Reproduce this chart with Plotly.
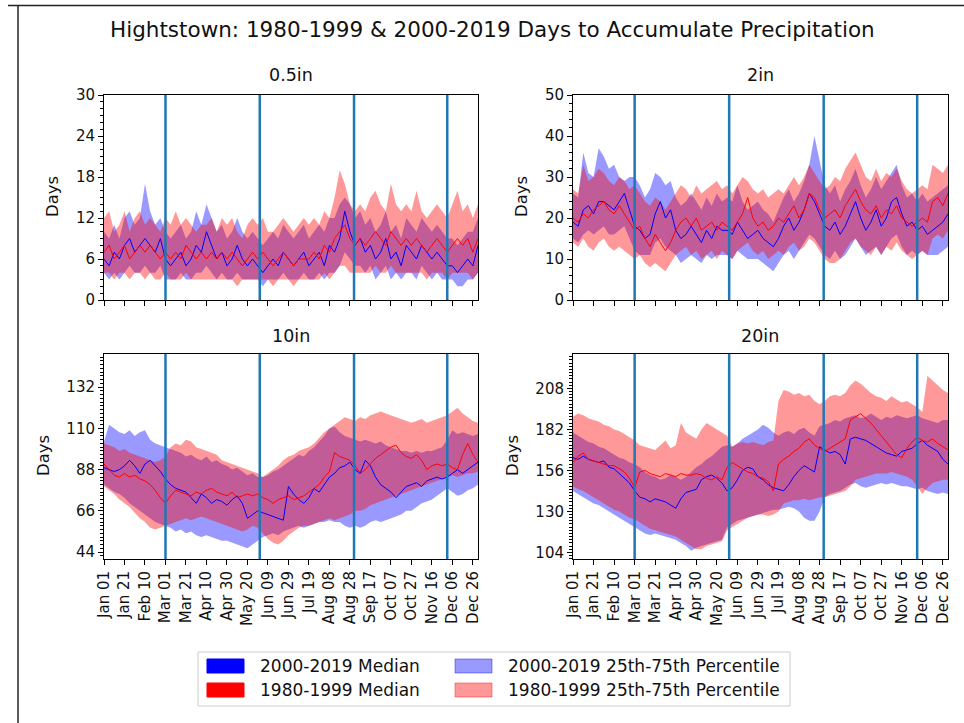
import pandas as pd
import plotly.graph_objects as go

W, H = 964, 723
FONT = "DejaVu Sans"

# Sampling days (offset from Jan 01 of a leap year) and calendar ticks
SAMPLE_DAYS = list(range(0, 366, 5))
TICK_DAYS = list(range(0, 361, 20))
TICK_LABELS = ["Jan 01", "Jan 21", "Feb 10", "Mar 01", "Mar 21", "Apr 10", "Apr 30",
               "May 20", "Jun 09", "Jun 29", "Jul 19", "Aug 08", "Aug 28", "Sep 17",
               "Oct 07", "Oct 27", "Nov 16", "Dec 06", "Dec 26"]
SEASON_STARTS = ["2000-03-01", "2000-06-01", "2000-09-01", "2000-12-01"]
PANEL_TITLES = ["0.5in", "2in", "10in", "20in"]

# ---- 0.5in ----
p05_new_med = [6, 5, 7, 6, 8, 9, 7, 8, 9, 8,
               7, 9, 6, 5, 6, 7, 5, 6, 8, 7,
               10, 8, 6, 7, 5, 6, 8, 6, 5, 6,
               5, 4, 5, 6, 5, 7, 6, 5, 6, 7,
               5, 6, 7, 5, 8, 7, 9, 13, 10, 8,
               9, 7, 8, 6, 7, 9, 6, 7, 5, 8,
               7, 6, 8, 7, 6, 7, 6, 5, 5, 4,
               5, 6, 5, 8]
p05_new_p25 = [4, 3, 4, 3, 4, 5, 4, 4, 5, 4,
               4, 5, 3, 3, 3, 4, 3, 3, 4, 4,
               5, 4, 3, 4, 3, 3, 4, 3, 3, 3,
               3, 2, 3, 3, 3, 4, 3, 3, 3, 4,
               3, 3, 4, 3, 4, 4, 5, 7, 6, 5,
               5, 4, 5, 3, 4, 5, 3, 4, 3, 4,
               4, 3, 5, 4, 3, 4, 3, 3, 3, 2,
               2, 3, 3, 4]
p05_new_p75 = [10, 9, 11, 9, 12, 13, 11, 12, 17, 13,
               11, 12, 10, 9, 10, 11, 9, 10, 13, 11,
               14, 12, 10, 11, 9, 10, 12, 10, 9, 10,
               9, 8, 9, 10, 9, 11, 10, 9, 10, 11,
               9, 10, 11, 10, 12, 12, 14, 15, 14, 12,
               13, 11, 12, 10, 11, 13, 10, 11, 9, 12,
               11, 10, 12, 11, 10, 11, 10, 9, 9, 8,
               9, 10, 10, 12]
p05_old_med = [7, 8, 6, 7, 8, 6, 7, 8, 7, 8,
               7, 6, 7, 6, 7, 6, 8, 7, 6, 7,
               6, 7, 6, 7, 6, 7, 6, 5, 6, 7,
               6, 7, 6, 5, 6, 7, 6, 5, 6, 6,
               6, 7, 6, 8, 7, 9, 10, 11, 9, 8,
               9, 8, 9, 10, 9, 8, 10, 9, 8, 9,
               8, 9, 8, 7, 8, 9, 8, 7, 8, 9,
               8, 9, 7, 9]
p05_old_p25 = [4, 4, 3, 4, 4, 3, 4, 4, 3, 4,
               3, 3, 4, 3, 3, 3, 4, 3, 3, 3,
               3, 3, 3, 3, 3, 3, 2, 3, 3, 3,
               3, 3, 3, 2, 3, 3, 3, 2, 3, 3,
               3, 3, 3, 4, 3, 4, 5, 5, 4, 4,
               4, 4, 4, 5, 4, 4, 5, 4, 4, 4,
               4, 4, 4, 3, 4, 4, 4, 3, 4, 4,
               4, 4, 3, 4]
p05_old_p75 = [12, 13, 10, 11, 13, 10, 12, 13, 11, 12,
               11, 10, 12, 11, 13, 11, 12, 11, 10, 11,
               11, 12, 10, 12, 11, 12, 10, 9, 11, 12,
               11, 12, 10, 10, 11, 12, 11, 10, 11, 12,
               11, 12, 11, 13, 12, 15, 19, 17, 14, 13,
               14, 13, 15, 16, 14, 13, 17, 14, 13, 14,
               13, 16, 13, 12, 13, 14, 13, 12, 14, 16,
               13, 14, 12, 14]

# ---- 2in ----
p2_new_med = [19, 18, 22, 23, 21, 24, 24, 23, 22, 24,
              26, 22, 18, 17, 15, 16, 21, 24, 20, 22,
              17, 15, 16, 18, 16, 14, 17, 15, 18, 17,
              17, 16, 19, 17, 15, 16, 17, 15, 14, 13,
              15, 18, 20, 17, 19, 22, 26, 24, 21, 18,
              17, 19, 16, 18, 21, 24, 20, 17, 19, 22,
              18, 20, 24, 25, 21, 18, 19, 17, 18, 16,
              17, 18, 19, 21]
p2_new_p25 = [15, 14, 16, 17, 16, 17, 18, 16, 16, 17,
              18, 15, 12, 11, 11, 11, 14, 15, 13, 12,
              11, 9, 10, 11, 10, 9, 11, 10, 11, 11,
              11, 10, 12, 11, 10, 10, 10, 9, 8, 7,
              9, 11, 12, 10, 12, 14, 16, 15, 13, 11,
              10, 12, 10, 11, 13, 15, 13, 11, 12, 13,
              11, 13, 15, 16, 13, 11, 12, 11, 12, 11,
              11, 11, 12, 13]
p2_new_p75 = [26, 25, 36, 31, 30, 37, 35, 32, 33, 30,
              29, 30, 30, 28, 25, 27, 31, 30, 28, 29,
              25, 23, 24, 26, 24, 22, 25, 23, 26, 24,
              25, 24, 28, 24, 22, 23, 24, 22, 21, 19,
              22, 25, 27, 24, 26, 29, 33, 40, 34, 28,
              26, 28, 24, 27, 29, 32, 28, 25, 27, 30,
              27, 29, 31, 33, 28, 25, 26, 24, 26, 24,
              25, 26, 27, 28]
p2_old_med = [20, 19, 21, 20, 22, 23, 24, 22, 21, 23,
              21, 19, 17, 18, 15, 13, 16, 14, 12, 14,
              17, 19, 20, 18, 20, 17, 18, 19, 17, 19,
              18, 17, 19, 21, 25, 20, 18, 19, 17, 18,
              20, 19, 21, 23, 20, 22, 26, 25, 22, 20,
              21, 22, 20, 23, 25, 27, 24, 22, 21, 23,
              20, 22, 21, 23, 20, 19, 18, 19, 20, 19,
              24, 25, 23, 26]
p2_old_p25 = [14, 13, 15, 13, 12, 14, 15, 13, 12, 13,
              12, 11, 10, 11, 9, 8, 9, 8, 7, 9,
              11, 12, 13, 11, 12, 10, 11, 12, 10, 12,
              11, 10, 12, 13, 14, 12, 11, 12, 10, 11,
              12, 11, 13, 14, 12, 13, 15, 14, 12, 10,
              9, 9, 10, 12, 14, 15, 13, 12, 11, 13,
              11, 13, 12, 14, 12, 11, 10, 11, 12, 11,
              15, 16, 15, 17]
p2_old_p75 = [27, 26, 33, 29, 30, 32, 31, 29, 28, 30,
              29, 27, 28, 26, 24, 23, 25, 24, 22, 24,
              26, 28, 27, 25, 28, 26, 27, 28, 29, 27,
              28, 26, 28, 30, 29, 27, 26, 27, 25, 26,
              27, 26, 28, 30, 28, 30, 33, 31, 29, 27,
              28, 30, 29, 32, 34, 36, 33, 30, 29, 32,
              29, 31, 30, 32, 29, 27, 26, 27, 28, 27,
              33, 32, 31, 33]

# ---- 10in ----
p10_new_med = [89, 88, 87, 88, 90, 93, 90, 86, 91, 93,
               90, 87, 83, 80, 78, 77, 76, 73, 70, 75,
               73, 70, 72, 71, 69, 72, 74, 70, 62, 64,
               66, 65, 64, 63, 62, 61, 79, 75, 72, 70,
               73, 78, 76, 80, 84, 86, 89, 90, 92, 88,
               86, 93, 90, 84, 80, 78, 76, 73, 76, 79,
               80, 81, 79, 82, 83, 84, 83, 84, 86, 88,
               86, 88, 90, 92]
p10_new_p25 = [80, 78, 76, 75, 73, 70, 68, 66, 64, 62,
               60, 59, 58, 57, 55, 56, 54, 55, 53, 52,
               53, 52, 51, 50, 50, 49, 48, 47, 46, 48,
               50, 52, 53, 54, 53, 55, 56, 57, 58, 57,
               58, 59, 60, 60, 61, 60, 60, 58, 57, 58,
               57, 58, 60, 61, 60, 61, 62, 63, 64, 66,
               66, 68, 70, 71, 72, 74, 76, 78, 76, 74,
               75, 77, 78, 80]
p10_new_p75 = [103, 112, 110, 108, 107, 109, 106, 108, 109, 104,
               102, 101, 100, 99, 98, 97, 95, 96, 94, 93,
               95, 92, 93, 91, 90, 88, 89, 87, 85, 86,
               84, 84, 85, 87, 88, 90, 92, 94, 96, 95,
               98, 100, 103, 106, 110, 111, 108, 106, 105, 104,
               103, 104, 103, 102, 103, 101, 100, 99, 98, 98,
               97, 98, 97, 98, 98, 99, 100, 104, 109, 107,
               108, 107, 106, 107]
p10_old_med = [91, 88, 85, 84, 86, 84, 85, 83, 82, 80,
               77, 73, 70, 74, 77, 76, 75, 74, 76, 75,
               77, 78, 76, 75, 74, 76, 73, 74, 75, 74,
               75, 73, 72, 70, 72, 73, 74, 72, 73, 74,
               76, 78, 80, 84, 87, 97, 95, 94, 93, 90,
               86, 88, 91, 94, 96, 98, 100, 101, 97, 95,
               94, 96, 93, 88, 90, 91, 90, 91, 89, 88,
               96, 102, 96, 92]
p10_old_p25 = [79, 77, 75, 72, 70, 68, 65, 62, 60, 57,
               56, 57, 58, 59, 60, 61, 62, 61, 62, 63,
               62, 61, 60, 59, 58, 57, 56, 55, 56, 58,
               57, 54, 51, 49, 48, 50, 53, 55, 57, 58,
               58, 59, 60, 61, 62, 61, 62, 63, 64, 66,
               66, 67, 69, 70, 71, 72, 73, 74, 75, 76,
               77, 78, 79, 80, 81, 82, 83, 84, 85, 84,
               85, 86, 86, 87]
p10_old_p75 = [102, 101, 100, 98, 99, 97, 96, 95, 94, 93,
               92, 93, 95, 100, 102, 101, 104, 103, 100, 99,
               98, 97, 96, 93, 92, 91, 90, 89, 88, 87,
               86, 84, 86, 88, 90, 93, 95, 96, 98, 99,
               100, 102, 105, 108, 110, 112, 114, 116, 115, 114,
               116, 115, 117, 118, 119, 118, 117, 116, 115, 114,
               113, 114, 115, 113, 114, 115, 116, 117, 119, 121,
               118, 116, 114, 113]

# ---- 20in ----
p20_new_med = [164, 163, 165, 163, 162, 161, 162, 158, 157, 154,
               151, 148, 143, 139, 138, 136, 138, 137, 136, 134,
               132, 138, 142, 143, 144, 150, 152, 153, 151, 148,
               143, 145, 150, 156, 158, 157, 152, 150, 147, 145,
               144, 143, 147, 152, 156, 159, 157, 155, 171, 169,
               167, 168, 166, 160, 176, 177, 176, 175, 173, 171,
               169, 167, 166, 165, 168, 169, 170, 173, 175, 172,
               170, 168, 163, 160]
p20_new_p25 = [143, 141, 139, 137, 135, 134, 132, 130, 128, 126,
               124, 122, 120, 118, 116, 115, 116, 115, 114, 113,
               112, 110, 108, 105, 107, 108, 109, 110, 111, 112,
               120, 122, 124, 125, 126, 127, 128, 129, 130, 131,
               131, 132, 133, 132, 130, 126, 124, 124, 130, 139,
               141, 142, 143, 145, 147, 148, 146, 145, 146, 147,
               148, 147, 148, 147, 146, 146, 145, 144, 145, 143,
               142, 141, 142, 141]
p20_new_p75 = [180, 178, 176, 174, 173, 171, 170, 168, 166, 164,
               163, 161, 160, 158, 155, 153, 152, 150, 151, 153,
               152, 150, 152, 155, 158, 160, 163, 165, 168, 171,
               172, 171, 173, 176, 178, 180, 182, 185, 183, 180,
               178, 180, 181, 179, 182, 183, 180, 178, 184, 185,
               186, 188, 187, 189, 190, 191, 189, 190, 192, 190,
               188, 190, 189, 191, 190, 189, 190, 191, 189, 188,
               187, 186, 188, 188]
p20_old_med = [161, 165, 167, 163, 162, 161, 160, 159, 159, 157,
               155, 151, 145, 155, 156, 154, 153, 152, 154, 153,
               152, 154, 153, 153, 154, 153, 151, 150, 152, 150,
               158, 161, 159, 157, 155, 154, 152, 151, 149, 143,
               160, 163, 165, 168, 170, 174, 176, 172, 170, 168,
               170, 172, 174, 176, 188, 190, 192, 189, 186, 182,
               178, 174, 170, 166, 164, 170, 174, 177, 175, 174,
               176, 173, 171, 169]
p20_old_p25 = [146, 144, 143, 141, 139, 137, 135, 133, 131, 130,
               128, 126, 125, 123, 121, 119, 118, 117, 116, 115,
               114, 112, 110, 108, 106, 106, 108, 109, 110, 111,
               118, 120, 122, 124, 126, 127, 128, 128, 127, 128,
               130, 135, 136, 137, 137, 138, 137, 138, 139, 139,
               140, 141, 142, 143, 146, 150, 151, 152, 153, 154,
               154, 154, 155, 154, 153, 152, 150, 146, 141, 145,
               148, 149, 150, 150]
p20_old_p75 = [190, 192, 191, 189, 188, 187, 185, 184, 182, 181,
               179, 177, 175, 172, 171, 170, 169, 172, 175, 170,
               172, 186, 180, 178, 176, 182, 186, 184, 182, 180,
               178, 171, 173, 174, 173, 174, 173, 172, 174, 175,
               200, 207, 206, 204, 205, 203, 204, 200, 198, 200,
               203, 204, 203, 205, 210, 213, 211, 208, 205, 203,
               202, 200, 203, 201, 199, 200, 198, 196, 193, 216,
               213, 210, 207, 205]

PANEL_DATA = [
    (p05_new_med, p05_new_p25, p05_new_p75, p05_old_med, p05_old_p25, p05_old_p75),
    (p2_new_med, p2_new_p25, p2_new_p75, p2_old_med, p2_old_p25, p2_old_p75),
    (p10_new_med, p10_new_p25, p10_new_p75, p10_old_med, p10_old_p25, p10_old_p75),
    (p20_new_med, p20_new_p25, p20_new_p75, p20_old_med, p20_old_p25, p20_old_p75),
]

LEGEND_LABELS = ["2000-2019 Median", "1980-1999 Median",
                 "2000-2019 25th-75th Percentile", "1980-1999 25th-75th Percentile"]

BLUE, RED = "#0000ff", "#ff0000"
BLUE_BAND, RED_BAND = "rgba(0,0,255,0.4)", "rgba(255,0,0,0.4)"
SEASON_COLOR = "#1f77b4"
TEXT = "#111"

base = pd.Timestamp("2000-01-01")
dates = [base + pd.Timedelta(days=d) for d in SAMPLE_DAYS]
tick_dates = [base + pd.Timedelta(days=d) for d in TICK_DAYS]


def fx(px):
    return px / W


def fy(py):
    return 1 - py / H


# panel boxes in pixels: (left, right, top, bottom)
BOXES = [(104, 478, 95, 300), (573, 948, 95, 300),
         (104, 478, 354, 559), (573, 948, 354, 559)]
Y_RANGES = [(0, 30), (0, 50), (40.3, 149.7), (99.8, 229.8)]
Y_TICKS = [(0, 6, 1), (0, 10, 2), (44, 22, 2), (104, 26, 2)]

fig = go.Figure()
layout = dict(
    width=W, height=H, autosize=False, template="none",
    margin=dict(l=0, r=0, t=0, b=0),
    paper_bgcolor="white", plot_bgcolor="white",
    font=dict(family=FONT, size=15, color=TEXT),
    showlegend=False,
)

for i, (series, box) in enumerate(zip(PANEL_DATA, BOXES)):
    n = "" if i == 0 else str(i + 1)
    xa, ya = "x" + n, "y" + n
    new_med, new_p25, new_p75, old_med, old_p25, old_p75 = series
    for lo, hi, band in ((new_p25, new_p75, BLUE_BAND), (old_p25, old_p75, RED_BAND)):
        fig.add_trace(go.Scatter(x=dates, y=lo, mode="lines", line=dict(width=0),
                                 xaxis=xa, yaxis=ya, hoverinfo="skip"))
        fig.add_trace(go.Scatter(x=dates, y=hi, mode="lines", line=dict(width=0),
                                 fill="tonexty", fillcolor=band,
                                 xaxis=xa, yaxis=ya, hoverinfo="skip"))
    fig.add_trace(go.Scatter(x=dates, y=new_med, mode="lines",
                             line=dict(color=BLUE, width=1), xaxis=xa, yaxis=ya))
    fig.add_trace(go.Scatter(x=dates, y=old_med, mode="lines",
                             line=dict(color=RED, width=1), xaxis=xa, yaxis=ya))

    left, right, top, bottom = box
    t0, dt, mdt = Y_TICKS[i]
    layout["xaxis" + n] = dict(
        domain=[fx(left), fx(right)], anchor=ya,
        range=[base, base + pd.Timedelta(days=365)],
        tickmode="array", tickvals=tick_dates, ticktext=TICK_LABELS,
        showticklabels=(i >= 2), tickangle=-90,
        ticks="outside", ticklen=5, tickwidth=1, tickcolor="black",
        showline=True, linecolor="black", linewidth=1, mirror=True,
        showgrid=False, zeroline=False, automargin=False,
        tickfont=dict(size=15, color=TEXT),
    )
    layout["yaxis" + n] = dict(
        domain=[fy(bottom), fy(top)], anchor=xa,
        range=list(Y_RANGES[i]), tick0=t0, dtick=dt,
        ticks="outside", ticklen=5, tickwidth=1, tickcolor="black",
        minor=dict(tick0=t0, dtick=mdt, ticks="outside", ticklen=3,
                   tickcolor="black", tickwidth=1, showgrid=False),
        showline=True, linecolor="black", linewidth=1, mirror=True,
        showgrid=False, zeroline=False, automargin=False,
        tickfont=dict(size=15, color=TEXT),
    )

fig.update_layout(**layout)

shapes = []
annotations = []

# season boundaries
for i in range(4):
    n = "" if i == 0 else str(i + 1)
    for d in SEASON_STARTS:
        shapes.append(dict(type="line", xref="x" + n, yref="y" + n + " domain",
                           x0=d, x1=d, y0=0, y1=1,
                           line=dict(color=SEASON_COLOR, width=2.5), layer="above"))

# panel titles and y-axis labels
title_pos = [(291, 75), (760, 75), (291, 336), (760, 336)]
days_pos = [(53, 197), (522, 197), (43, 456), (512, 456)]
for t, (tx, ty), (dx, dy) in zip(PANEL_TITLES, title_pos, days_pos):
    annotations.append(dict(text=t, x=fx(tx), y=fy(ty), xref="paper", yref="paper",
                            showarrow=False, xanchor="center", yanchor="middle",
                            font=dict(size=17.5, color=TEXT)))
    annotations.append(dict(text="Days", x=fx(dx), y=fy(dy), xref="paper", yref="paper",
                            showarrow=False, textangle=-90, xanchor="center",
                            yanchor="middle", font=dict(size=16.5, color=TEXT)))

annotations.append(dict(
    text="Hightstown: 1980-1999 & 2000-2019 Days to Accumulate Precipitation",
    x=fx(493), y=fy(30), xref="paper", yref="paper", showarrow=False,
    xanchor="center", yanchor="middle", font=dict(size=21.5, color=TEXT)))

# outer frame
shapes.append(dict(type="line", xref="paper", yref="paper",
                   x0=fx(8), x1=1, y0=fy(5.5), y1=fy(5.5),
                   line=dict(color="#222", width=1.5)))
shapes.append(dict(type="line", xref="paper", yref="paper",
                   x0=fx(18), x1=fx(18), y0=fy(5.5), y1=0,
                   line=dict(color="#222", width=1.5)))

# legend box
shapes.append(dict(type="rect", xref="paper", yref="paper",
                   x0=fx(198), x1=fx(790), y0=fy(706), y1=fy(652),
                   line=dict(color="#cccccc", width=1), fillcolor="white"))
legend_items = [
    (LEGEND_LABELS[0], BLUE, BLUE, 207, 666),
    (LEGEND_LABELS[1], RED, RED, 207, 690),
    (LEGEND_LABELS[2], BLUE_BAND, BLUE_BAND, 455, 666),
    (LEGEND_LABELS[3], RED_BAND, RED_BAND, 455, 690),
]
for label, fill, edge, lx, ly in legend_items:
    shapes.append(dict(type="rect", xref="paper", yref="paper",
                       x0=fx(lx), x1=fx(lx + 37), y0=fy(ly + 7), y1=fy(ly - 7),
                       fillcolor=fill, line=dict(color=edge, width=1)))
    annotations.append(dict(text=label, x=fx(lx + 51), y=fy(ly), xref="paper",
                            yref="paper", showarrow=False, xanchor="left",
                            yanchor="middle", font=dict(size=17, color=TEXT)))

fig.update_layout(shapes=shapes, annotations=annotations)
fig.write_html("out.html")
